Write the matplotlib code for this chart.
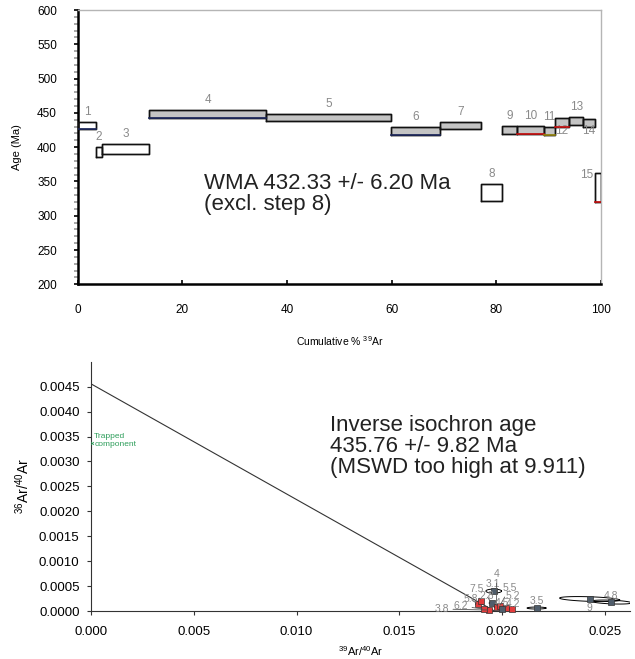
import numpy as np
import matplotlib
matplotlib.use("Agg")
from matplotlib import pyplot as plt

plt.rcParams['font.family'] = ['Liberation Sans', 'DejaVu Sans']
plt.rcParams['mathtext.fontset'] = 'custom'
plt.rcParams['mathtext.rm'] = 'Liberation Sans'

# --- step heating spectrum ---
cum_pct = [0, 3.5, 4.6, 13.7, 36.0, 59.8, 69.3, 77.1, 81.05, 84.0, 89.1,
           91.2, 93.9, 96.6, 98.8, 100]
step_age = [431.8, 393.4, 397.0, 448.2, 443.0, 423.6, 431.8, 333.7, 424.8,
            424.8, 423.8, 436.0, 438.4, 435.0, 341.2]
step_err = [5.3, 7.3, 7.3, 5.6, 5.3, 5.8, 5.3, 12.6, 6.0, 6.0, 6.0, 6.0,
            6.1, 6.0, 20.7]
step_used = [False, False, False, True, True, True, True, False, True, True,
             True, True, True, True, False]
step_names = [str(i) for i in range(1, 16)]
wma_text = "WMA 432.33 +/- 6.20 Ma\n(excl. step 8)"

# --- inverse isochron ---
iso_labels = ["3.8", "6.2", "5.8", "7.5", "2.8", "3.1", "4", "5.5", "5.2",
              "4.5", "4.2", "3.5", "9", "4.8"]
iso_x = [0.01933, 0.01909, 0.01880, 0.01895, 0.01948, 0.01958, 0.01972,
         0.01987, 0.02016, 0.01997, 0.02045, 0.02166, 0.02424, 0.02530]
iso_y = [0.00002, 0.00004, 0.00014, 0.00020, 0.00016, 0.00040, 0.00008,
         0.00010, 0.00006, 0.00004, 0.00004, 0.00006, 0.00024, 0.00018]
iso_sx = [0.00012, 0.00012, 0.00010, 0.00010, 0.00012, 0.00038, 0.00012,
          0.00012, 0.00012, 0.00012, 0.00012, 0.00046, 0.00146, 0.00097]
iso_sy = [0.00002, 0.00002, 0.00002, 0.00002, 0.00002, 0.00004, 0.00002,
          0.00002, 0.00002, 0.00002, 0.00002, 0.00002, 0.00005, 0.00004]
iso_rho = [0, 0, 0, 0, 0, 0, 0, 0, 0, 0, 0, 0, -0.4, -0.4]
iso_used = [True, True, True, True, False, False, True, True, True, False,
            True, False, False, False]
iso_intercept = 0.00456
iso_x_intercept = 0.01962
trapped = (0.00008, 0.00337)
iso_text = "Inverse isochron age\n435.76 +/- 9.82 Ma\n(MSWD too high at 9.911)"

# label offsets in pixels (dx, dy) for the isochron point labels
iso_offsets = [(-47, 1), (-23, 3), (-7, 5), (-4, 12), (-5, 7), (-1, 7),
               (0, 33), (10, 18), (7, 12), (0, 6), (1, 5), (0, 7), (0, -9),
               (0, 6)]
# label placement for spectrum steps
step_label_pos = ['above'] * 15
step_label_pos[11] = 'below'
step_label_pos[13] = 'below'
step_label_pos[14] = 'left'
bottom_edge = {0: '#1f2a60', 3: '#1f2a60', 5: '#1f2a60', 9: '#cc1111',
               10: '#9a8a10', 11: '#cc1111', 14: '#cc1111'}

fig = plt.figure(figsize=(6.35, 6.59), dpi=100)

# ---------------- top: age spectrum ----------------
ax1 = fig.add_axes([0.1224, 0.5686, 0.824, 0.4162])
for i in range(len(step_age)):
    x0, x1 = cum_pct[i], cum_pct[i + 1]
    lo = step_age[i] - step_err[i]
    hi = step_age[i] + step_err[i]
    fc = '#c4c4c4' if step_used[i] else 'white'
    ax1.fill_between([x0, x1], [lo, lo], [hi, hi], facecolor=fc,
                     edgecolor='black', linewidth=1.0, zorder=2)
    ax1.plot([x0, x1, x1, x0, x0], [lo, lo, hi, hi, lo], color='#111111',
             lw=1.0, zorder=3)
    if i in bottom_edge:
        ax1.plot([x0, x1], [lo, lo], color=bottom_edge[i], lw=1.2, zorder=4)
    xc = (x0 + x1) / 2
    pos = step_label_pos[i]
    if pos == 'above':
        ax1.annotate(step_names[i], (xc, hi), xytext=(0, 10),
                     textcoords='offset pixels', ha='center', va='center',
                     fontsize=8.5, color='#8a8a8a')
    elif pos == 'below':
        ax1.annotate(step_names[i], (xc, lo), xytext=(0, -4),
                     textcoords='offset pixels', ha='center', va='center',
                     fontsize=8.5, color='#8a8a8a')
    else:
        ax1.annotate(step_names[i], (x0, hi), xytext=(-1, -2),
                     textcoords='offset pixels', ha='right', va='center',
                     fontsize=8.5, color='#8a8a8a')

ax1.set_xlim(0, 100)
ax1.set_ylim(200, 600)
ax1.set_xticks(np.arange(0, 101, 20))
ax1.set_yticks(np.arange(200, 601, 50))
ax1.set_yticks(np.arange(200, 601, 10), minor=True)
ax1.tick_params(axis='x', direction='in', length=3, width=1.2, pad=14,
                labelsize=8.5)
ax1.tick_params(axis='y', which='major', direction='out', length=3, width=1.2,
                pad=12, labelsize=8.5)
ax1.tick_params(axis='y', which='minor', direction='out', length=3, width=1.2,
                color='#999999')
for s in ['left', 'bottom']:
    ax1.spines[s].set_linewidth(1.8)
    ax1.spines[s].set_color('black')
for s in ['top', 'right']:
    ax1.spines[s].set_linewidth(1.0)
    ax1.spines[s].set_color('#b5b5b5')
ax1.set_xlabel(r'Cumulative % $\mathregular{^{39}}$Ar', fontsize=7.5,
               labelpad=13)
ax1.set_ylabel('Age (Ma)', fontsize=8)
ax1.yaxis.set_label_coords(-0.106, 0.5)
ax1.text(0.2414, 0.331, wma_text, transform=ax1.transAxes, fontsize=16,
         ha='left', va='center', color='#222222', linespacing=1.0)

# ---------------- bottom: inverse isochron ----------------
ax2 = fig.add_axes([0.1428, 0.0728, 0.8493, 0.3783])
xl = np.array([0, iso_x_intercept])
ax2.plot(xl, iso_intercept * (1 - xl / iso_x_intercept), color='#333333',
         lw=0.8, zorder=2)

t = np.linspace(0, 2 * np.pi, 100)
for i in range(len(iso_x)):
    ex = iso_x[i] + iso_sx[i] * np.cos(t)
    ey = iso_y[i] + iso_sy[i] * (iso_rho[i] * np.cos(t)
                                 + np.sqrt(1 - iso_rho[i] ** 2) * np.sin(t))
    ax2.plot(ex, ey, color='black', lw=0.7, zorder=3)
    fc = '#e23b3b' if iso_used[i] else '#4f5d6b'
    ax2.plot(iso_x[i], iso_y[i], marker='s', ms=4.5, mfc=fc, mec='#333333',
             mew=0.5, zorder=4, clip_on=False)
    dx, dy = iso_offsets[i]
    arrow = dict(arrowstyle='-', color='#555555', lw=0.6,
                 shrinkA=1, shrinkB=1) if abs(dx) + abs(dy) > 8 else None
    ax2.annotate(iso_labels[i], (iso_x[i], iso_y[i]), xytext=(dx, dy),
                 textcoords='offset pixels', ha='center', va='center',
                 fontsize=7.5, color='#8a8a8a', arrowprops=arrow, zorder=5,
                 annotation_clip=False)

ax2.plot(*trapped, marker='x', ms=2, color='#2e9e5b', mew=0.6, zorder=4)
ax2.annotate('Trapped\ncomponent', trapped, xytext=(2, 10),
             textcoords='offset pixels', ha='left', va='top', fontsize=6,
             color='#2e9e5b', linespacing=1.15)
ax2.text(0.443, 0.66, iso_text, transform=ax2.transAxes, fontsize=16,
         ha='left', va='center', color='#222222', linespacing=1.0)

ax2.set_xlim(0, 0.0262)
ax2.set_ylim(0, 0.005)
ax2.set_xticks(np.arange(0, 0.0251, 0.005))
ax2.set_yticks(np.arange(0, 0.00451, 0.0005))
ax2.xaxis.set_major_formatter(matplotlib.ticker.FormatStrFormatter('%.3f'))
ax2.yaxis.set_major_formatter(matplotlib.ticker.FormatStrFormatter('%.4f'))
ax2.tick_params(direction='out', length=3, width=0.8, labelsize=9.5,
                colors='#333333', labelcolor='black')
ax2.tick_params(axis='x', pad=8)
ax2.tick_params(axis='y', pad=5)
for s in ['top', 'right']:
    ax2.spines[s].set_visible(False)
for s in ['left', 'bottom']:
    ax2.spines[s].set_linewidth(0.8)
    ax2.spines[s].set_color('#333333')
ax2.set_xlabel(r'$\mathregular{^{39}}$Ar/$\mathregular{^{40}}$Ar',
               fontsize=8, labelpad=4)
ax2.set_ylabel(r'$\mathregular{^{36}}$Ar/$\mathregular{^{40}}$Ar',
               fontsize=10)
ax2.yaxis.set_label_coords(-0.109, 0.5)

fig.savefig('out.png', dpi=100)
